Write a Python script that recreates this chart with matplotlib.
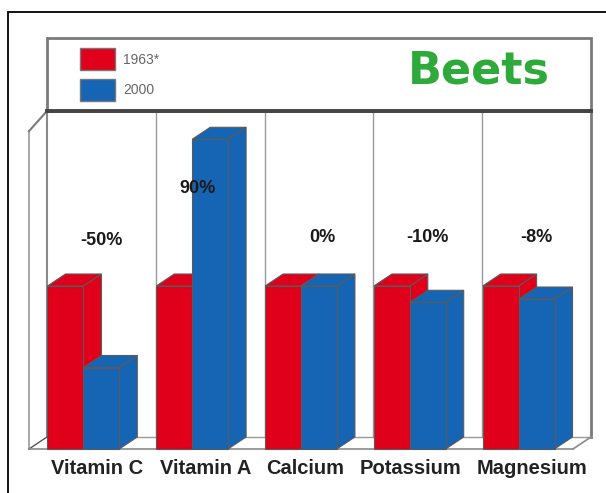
import matplotlib
matplotlib.use('Agg')
import matplotlib.pyplot as plt
from matplotlib.patches import Polygon, Rectangle, Patch

plt.rcParams['font.family'] = ['Liberation Sans', 'DejaVu Sans']

# data (1963 level = 100)
categories = ['Vitamin C', 'Vitamin A', 'Calcium', 'Potassium', 'Magnesium']
values_1963 = [100, 100, 100, 100, 100]
values_2000 = [50, 190, 100, 90, 92]
changes = ['-50%', '90%', '0%', '-10%', '-8%']
series_names = ['1963*', '2000']

RED = '#E0001B'
BLUE = '#1565B4'
EDGE = '#5a5a5a'

W, H = 606, 493
# pixel geometry of the fake 3D box
px_x0, px_slot = 29, 108.8       # left of front plane, width per category
px_base, px_unit = 449, 1.63      # baseline pixel (from top), pixels per value unit
dx, dy = 18 / px_slot, 12 / px_unit   # depth offset in data units
vmax = 200
bar_w = 0.33

fig = plt.figure(figsize=(W / 100, H / 100), dpi=100)
ax = fig.add_axes([0, 0, 1, 1])
ax.set_xlim(-px_x0 / px_slot, (W - px_x0) / px_slot)
ax.set_ylim(-(H - px_base) / px_unit, px_base / px_unit)
ax.axis('off')

n = len(categories)

# outer frame
fig.patches.append(Rectangle((8 / W, -0.1), 1.2, 1.1 - 12 / H, transform=fig.transFigure,
                             fill=False, edgecolor='black', linewidth=1.3))

# header box above the back wall
ax.add_patch(Rectangle((dx, vmax + dy), n, 45, facecolor='white',
                       edgecolor='#7a7a7a', linewidth=2, zorder=1))

# back wall and category separators
for i in range(1, n):
    ax.plot([i + dx, i + dx], [dy, vmax + dy], color='#9a9a9a', lw=1, zorder=1)
ax.plot([dx, dx], [dy, vmax + dy], color='#8a8a8a', lw=1.5, zorder=1)
ax.plot([n + dx, n + dx], [dy, vmax + dy], color='#7a7a7a', lw=2, zorder=1)
ax.plot([dx, n + dx], [vmax + dy, vmax + dy], color='#444444', lw=2.8, zorder=2)

# left wall
ax.plot([0, 0], [0, vmax - 5], color='#9a9a9a', lw=1.2, zorder=1)
ax.plot([0, dx], [vmax - 5, vmax + dy], color='#7a7a7a', lw=1.5, zorder=1)

# floor
ax.plot([dx, n + dx], [dy, dy], color='#9a9a9a', lw=1, zorder=1)
ax.plot([0, dx], [0, dy], color='#555555', lw=1, zorder=1)
ax.plot([0, n], [0, 0], color='#8a8a8a', lw=1.2, zorder=1)
ax.plot([n, n + dx], [0, dy], color='#8a8a8a', lw=1.2, zorder=1)


def bar3d(x, h, color, z):
    ax.add_patch(Polygon([(x + bar_w, 0), (x + bar_w + dx, dy), (x + bar_w + dx, h + dy),
                          (x + bar_w, h)], facecolor=color, edgecolor=EDGE, lw=0.8, zorder=z))
    ax.add_patch(Polygon([(x, h), (x + bar_w, h), (x + bar_w + dx, h + dy), (x + dx, h + dy)],
                         facecolor=color, edgecolor=EDGE, lw=0.8, zorder=z))
    ax.bar(x, h, width=bar_w, align='edge', color=color, edgecolor=EDGE, lw=0.8, zorder=z)


for i in range(n):
    c = i + 0.5
    bar3d(c - bar_w, values_1963[i], RED, 3 + 2 * i)
    bar3d(c, values_2000[i], BLUE, 4 + 2 * i)

# percentage change labels
pct_x = [i + 0.5 + dx for i in range(n)]
pct_x[1] -= 0.12
pct_x[2] += 0.03
pct_y = [128, 160, 130, 130, 130]
for x, y, t in zip(pct_x, pct_y, changes):
    ax.text(x, y, t, ha='center', va='center', fontsize=13, fontweight='bold',
            color='#1a1a1a', zorder=20)

# category labels (pixel nudges off the slot centre, as in the original)
label_nudge = [14, 13, 4, 1, 13]
for i, name in enumerate(categories):
    ax.text(i + 0.5 + label_nudge[i] / px_slot, -12, name, ha='center', va='center',
            fontsize=14.5, fontweight='bold', color='#222222')

# legend and title in the header
handles = [Patch(facecolor=RED, edgecolor='#777777'), Patch(facecolor=BLUE, edgecolor='#777777')]
fig.legend(handles, series_names, loc='upper left', bbox_to_anchor=(80 / W, 1 - 48 / H),
           bbox_transform=fig.transFigure, frameon=False, fontsize=10,
           handlelength=2.5, handleheight=2.1, labelspacing=0.6, handletextpad=0.6,
           borderpad=0, borderaxespad=0, labelcolor='#666666')

fig.text(479 / W, 1 - 83 / H, 'Beets', ha='center', va='baseline', fontsize=32,
         fontweight='bold', color='#2EAA3A', family='DejaVu Sans')

fig.savefig('out.png', dpi=100)
